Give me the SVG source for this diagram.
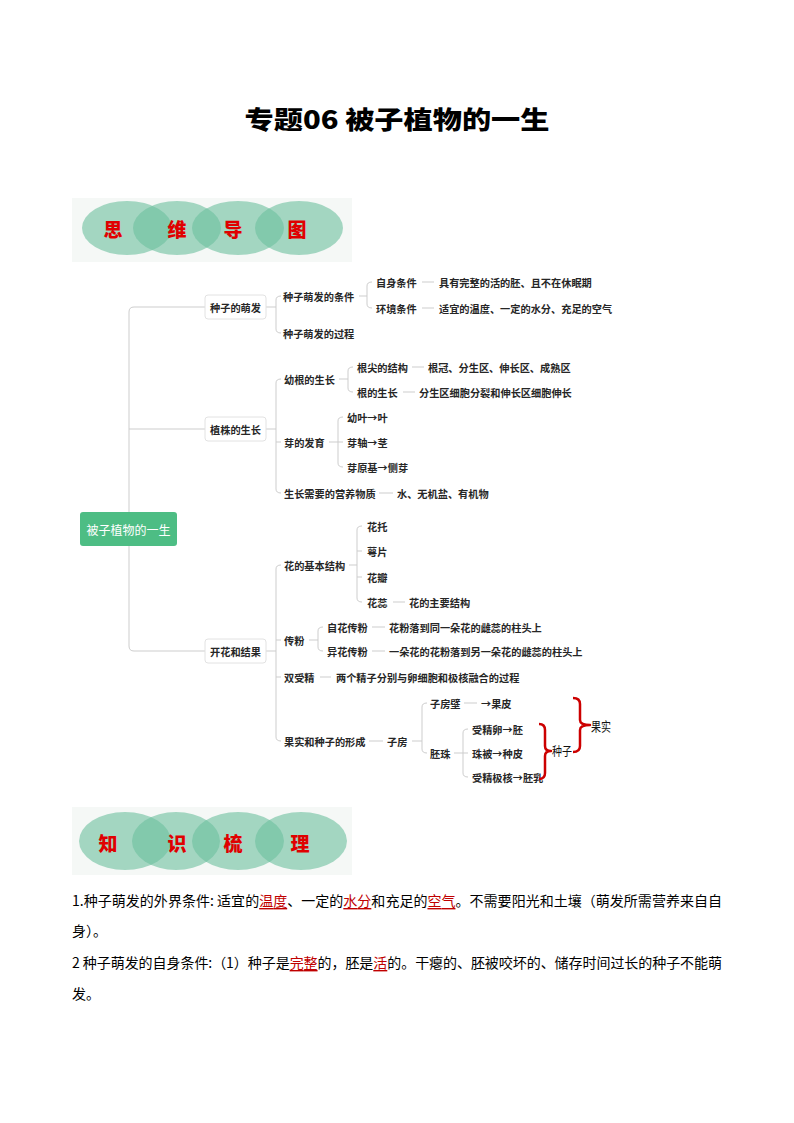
<svg xmlns="http://www.w3.org/2000/svg" width="794" height="1123" viewBox="0 0 794 1123">
<style>
.t{font-family:"Noto Sans CJK SC","Noto Sans",sans-serif;font-size:10.2px;fill:#262626;font-weight:700;dominant-baseline:central}
.c{fill:none;stroke:#cdcdcd;stroke-width:1}
.box{fill:#fff;stroke:#e2e2e2;stroke-width:1}
.el{fill:#6cbf9f;fill-opacity:0.6}
.bt{font-family:"Noto Sans CJK SC",sans-serif;font-size:19px;font-weight:900;fill:#e00000;text-anchor:middle;dominant-baseline:central}
.body{font-family:"Noto Sans CJK SC","Liberation Serif",sans-serif;font-size:14px;fill:#000;dominant-baseline:central}
.red{fill:#c00000;text-decoration:underline}
.rb{fill:none;stroke:#cc0000;stroke-width:2.5;stroke-linejoin:round}
.rt{font-family:"Noto Sans CJK SC",serif;font-size:12px;fill:#111;dominant-baseline:central}
</style>
<rect width="794" height="1123" fill="#fff"/>
<g id="title">
<text x="397" y="118" text-anchor="middle" textLength="305" lengthAdjust="spacingAndGlyphs" style="font-family:'Noto Sans CJK SC',sans-serif;font-size:25px;font-weight:900;fill:#000;dominant-baseline:central">专题06 被子植物的一生</text>
</g>
<g id="banner1">
<rect x="72" y="198" width="280" height="64" fill="#f5f8f6"/>
<ellipse class="el" cx="127" cy="228" rx="45" ry="27"/>
<ellipse class="el" cx="177" cy="228" rx="44" ry="27"/>
<ellipse class="el" cx="238" cy="228" rx="46" ry="27"/>
<ellipse class="el" cx="299" cy="228" rx="44" ry="27"/>
<text class="bt" x="113" y="228">思</text>
<text class="bt" x="177" y="228">维</text>
<text class="bt" x="233" y="228">导</text>
<text class="bt" x="297" y="228">图</text>
</g>
<g id="connectors">
<path class="c" d="M205 307 H134 Q129 307 129 312 V646 Q129 651 134 651 H205 M129 429 H205"/>
<path class="c" d="M266 307 H276 M281 296 Q276 296 276 300 V329 Q276 333 281 333"/>
<path class="c" d="M359 296 H367 M372 282 Q367 282 367 286 V304 Q367 308 372 308 M422 282 H434 M422 308 H434"/>
<path class="c" d="M266 429 H276 M281 379 Q276 379 276 383 V489 Q276 493 281 493 M276 442 H281"/>
<path class="c" d="M339 379 H348 M353 367 Q348 367 348 371 V388 Q348 392 353 392 M412 367 H424 M403 392 H415"/>
<path class="c" d="M329 442 H338 M343 417 Q338 417 338 421 V463 Q338 467 343 467 M338 442 H343"/>
<path class="c" d="M379 493 H393"/>
<path class="c" d="M266 651 H276 M281 565 Q276 565 276 569 V737 Q276 741 281 741 M276 640 H281 M276 677 H281"/>
<path class="c" d="M349 565 H357 M362 526 Q357 526 357 530 V598 Q357 602 362 602 M357 551 H362 M357 577 H362 M393 602 H405"/>
<path class="c" d="M309 640 H318 M323 627 Q318 627 318 631 V647 Q318 651 323 651 M372 627 H385 M372 651 H385"/>
<path class="c" d="M320 677 H331"/>
<path class="c" d="M369 741 H383 M412 741 H422 M427 703 Q422 703 422 707 V749 Q422 753 427 753 M464 703 H477"/>
<path class="c" d="M454 753 H463 M468 729 Q463 729 463 733 V773 Q463 777 468 777 M463 753 H468"/>
</g>
<g id="root">
<rect x="80" y="512" width="97" height="34" rx="3" fill="#4dbd84"/>
<text class="t" x="128.5" y="529" text-anchor="middle" style="fill:#fff;font-size:12px;font-weight:400">被子植物的一生</text>
</g>
<g id="n-seed">
<rect class="box" x="205" y="295" width="61" height="24" rx="3"/>
<text class="t" x="235.5" y="307" text-anchor="middle">种子的萌发</text>
</g>
<g id="n-seed-sub">
<text class="t" x="283" y="296">种子萌发的条件</text>
<text class="t" x="283" y="333">种子萌发的过程</text>
<text class="t" x="376" y="282">自身条件</text>
<text class="t" x="376" y="308">环境条件</text>
<text class="t" x="439" y="282">具有完整的活的胚、且不在休眠期</text>
<text class="t" x="439" y="308">适宜的温度、一定的水分、充足的空气</text>
</g>
<g id="n-grow">
<rect class="box" x="205" y="417" width="61" height="24" rx="3"/>
<text class="t" x="235.5" y="429" text-anchor="middle">植株的生长</text>
</g>
<g id="n-grow-sub">
<text class="t" x="284" y="379">幼根的生长</text>
<text class="t" x="284" y="442">芽的发育</text>
<text class="t" x="284" y="493">生长需要的营养物质</text>
<text class="t" x="357" y="367">根尖的结构</text>
<text class="t" x="357" y="392">根的生长</text>
<text class="t" x="428" y="367">根冠、分生区、伸长区、成熟区</text>
<text class="t" x="419" y="392">分生区细胞分裂和伸长区细胞伸长</text>
<text class="t" x="347" y="417">幼叶→叶</text>
<text class="t" x="347" y="442">芽轴→茎</text>
<text class="t" x="347" y="467">芽原基→侧芽</text>
<text class="t" x="397" y="493">水、无机盐、有机物</text>
</g>
<g id="n-flower">
<rect class="box" x="205" y="639" width="61" height="24" rx="3"/>
<text class="t" x="235.5" y="651" text-anchor="middle">开花和结果</text>
</g>
<g id="n-flower-sub">
<text class="t" x="284" y="565">花的基本结构</text>
<text class="t" x="284" y="640">传粉</text>
<text class="t" x="284" y="677">双受精</text>
<text class="t" x="284" y="741">果实和种子的形成</text>
<text class="t" x="367" y="526">花托</text>
<text class="t" x="367" y="551">萼片</text>
<text class="t" x="367" y="577">花瓣</text>
<text class="t" x="367" y="602">花蕊</text>
<text class="t" x="409" y="602">花的主要结构</text>
<text class="t" x="327" y="627">自花传粉</text>
<text class="t" x="327" y="651">异花传粉</text>
<text class="t" x="389" y="627">花粉落到同一朵花的雌蕊的柱头上</text>
<text class="t" x="389" y="651">一朵花的花粉落到另一朵花的雌蕊的柱头上</text>
<text class="t" x="336" y="677">两个精子分别与卵细胞和极核融合的过程</text>
<text class="t" x="387" y="741">子房</text>
<text class="t" x="430" y="703">子房壁</text>
<text class="t" x="481" y="703">→果皮</text>
<text class="t" x="430" y="753">胚珠</text>
<text class="t" x="472" y="729">受精卵→胚</text>
<text class="t" x="472" y="753">珠被→种皮</text>
<text class="t" x="472" y="777">受精极核→胚乳</text>
</g>
<g id="red-brackets">
<path class="rb" d="M539 724 Q545 724 545 730 V746 Q545 751 551 751 Q545 751 545 756 V773 Q545 779 539 779"/>
<text class="rt" x="552" y="750" textLength="20" lengthAdjust="spacingAndGlyphs">种子</text>
<path class="rb" d="M573 698 Q580 698 580 704 V720 Q580 725 590 725 Q580 725 580 730 V746 Q580 752 573 752"/>
<text class="rt" x="591" y="725" textLength="20" lengthAdjust="spacingAndGlyphs" style="font-size:13px">果实</text>
</g>
<g id="banner2">
<rect x="72" y="807" width="280" height="68" fill="#f5f8f6"/>
<ellipse class="el" cx="125" cy="841" rx="46" ry="29"/>
<ellipse class="el" cx="176" cy="841" rx="44" ry="29"/>
<ellipse class="el" cx="238" cy="841" rx="46" ry="29"/>
<ellipse class="el" cx="301" cy="841" rx="46" ry="29"/>
<text class="bt" x="108" y="842">知</text>
<text class="bt" x="177" y="842">识</text>
<text class="bt" x="233" y="842">梳</text>
<text class="bt" x="300" y="842">理</text>
</g>
<g id="notes">
<text class="body" x="72" y="900" textLength="650" lengthAdjust="spacing">1.种子萌发的外界条件: 适宜的<tspan class="red">温度</tspan>、一定的<tspan class="red">水分</tspan>和充足的<tspan class="red">空气</tspan>。不需要阳光和土壤（萌发所需营养来自自</text>
<text class="body" x="72" y="930">身）。</text>
<text class="body" x="72" y="962" textLength="650" lengthAdjust="spacing">2 种子萌发的自身条件:（1）种子是<tspan class="red">完整</tspan>的，胚是<tspan class="red">活</tspan>的。干瘪的、胚被咬坏的、储存时间过长的种子不能萌</text>
<text class="body" x="72" y="993">发。</text>
</g>
</svg>
